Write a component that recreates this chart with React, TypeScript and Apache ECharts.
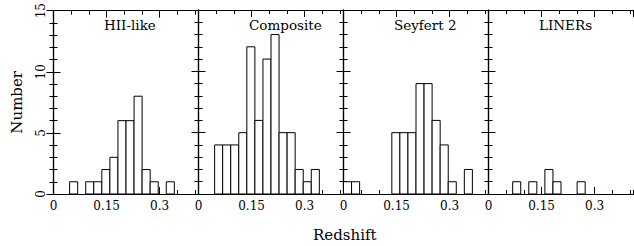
import React, { useEffect, useRef } from 'react';
import * as echarts from 'echarts';

// ---- data ----
const panelTitles = ['HII-like', 'Composite', 'Seyfert 2', 'LINERs'];
const binCount = 18;
const redshiftMax = 0.41;
const hiiCounts = [0, 0, 1, 0, 1, 1, 2, 3, 6, 6, 8, 2, 1, 0, 1, 0, 0, 0];
const compositeCounts = [0, 0, 4, 4, 4, 5, 12, 6, 11, 13, 5, 5, 2, 1, 2, 0, 0, 0];
const seyfertCounts = [1, 1, 0, 0, 0, 0, 5, 5, 5, 9, 9, 6, 4, 1, 0, 2, 0, 0];
const linerCounts = [0, 0, 0, 1, 0, 1, 0, 2, 1, 0, 0, 1, 0, 0, 0, 0, 0, 0];
const xTickLabels = ['0', '0.15', '0.3'];
const yTickLabels = ['0', '5', '10', '15'];
const xAxisTitle = 'Redshift';
const yAxisTitle = 'Number';

const allCounts = [hiiCounts, compositeCounts, seyfertCounts, linerCounts];

const SERIF = '"DejaVu Serif", "Liberation Serif", serif';

export default function App() {
  const ref = useRef<HTMLDivElement>(null);
  useEffect(() => {
    if (!ref.current) return;
    const chart = echarts.init(ref.current, null, { renderer: 'svg' });
    const binW = redshiftMax / binCount;
    const gridLeft0 = 53.5;
    const gridStep = 145;
    const grids: any[] = [];
    const xAxes: any[] = [];
    const yAxes: any[] = [];
    const series: any[] = [];
    const graphics: any[] = [];
    const lineCol = '#000';

    const fmtX = (v: number) => {
      const s = String(Math.round(v * 100) / 100);
      return xTickLabels.includes(s) && v < 0.4 ? s : '';
    };
    const fmtY = (v: number) => {
      const s = String(Math.round(v));
      return yTickLabels.includes(s) ? s : '';
    };

    for (let i = 0; i < 4; i++) {
      const left = gridLeft0 + gridStep * i;
      grids.push({ left, top: 10, width: gridStep, height: 184, containLabel: false });
      const baseX = {
        type: 'value', gridIndex: i, min: 0, max: redshiftMax,
        splitLine: { show: false },
        axisLine: { show: true, lineStyle: { color: lineCol, width: 1.2 } },
      };
      // bottom minor
      xAxes.push({ ...baseX, position: 'bottom', interval: 0.05,
        axisTick: { show: true, inside: true, length: 4, lineStyle: { color: lineCol, width: 1 } },
        axisLabel: { show: false } });
      // bottom major
      xAxes.push({ ...baseX, position: 'bottom', interval: 0.15,
        axisTick: { show: true, inside: true, length: 7, lineStyle: { color: lineCol, width: 1 } },
        axisLabel: { show: true, margin: 6, color: '#000', fontFamily: SERIF, fontSize: 12,
          formatter: fmtX, showMaxLabel: false } });
      // top minor
      xAxes.push({ ...baseX, position: 'top', interval: 0.05,
        axisTick: { show: true, inside: true, length: 4, lineStyle: { color: lineCol, width: 1 } },
        axisLabel: { show: false } });
      // top major
      xAxes.push({ ...baseX, position: 'top', interval: 0.15,
        axisTick: { show: true, inside: true, length: 7, lineStyle: { color: lineCol, width: 1 } },
        axisLabel: { show: false } });

      const baseY = {
        type: 'value', gridIndex: i, min: 0, max: 15, interval: 5,
        splitLine: { show: false },
        axisLine: { show: true, lineStyle: { color: lineCol, width: 1.2 } },
        axisTick: { show: true, inside: true, length: 7, lineStyle: { color: lineCol, width: 1 } },
        minorTick: { show: true, splitNumber: 5, length: 4, lineStyle: { color: lineCol, width: 1 } },
      };
      yAxes.push({ ...baseY, position: 'left',
        name: i === 0 ? yAxisTitle : '', nameLocation: 'middle', nameGap: 29,
        nameTextStyle: { color: '#000', fontFamily: SERIF, fontSize: 15 },
        axisLabel: { show: i === 0, rotate: 90, margin: 7, color: '#000', fontFamily: SERIF, fontSize: 12, formatter: fmtY } });
      yAxes.push({ ...baseY, position: 'right', axisLabel: { show: false } });

      const data = allCounts[i]
        .map((c, b) => [b * binW, (b + 1) * binW, c])
        .filter((d) => d[2] > 0);
      series.push({
        type: 'custom',
        xAxisIndex: 4 * i,
        yAxisIndex: 2 * i,
        data,
        renderItem: (params: any, api: any) => {
          const p0 = api.coord([api.value(0), api.value(2)]);
          const p1 = api.coord([api.value(1), 0]);
          return {
            type: 'rect',
            shape: { x: p0[0], y: p0[1], width: p1[0] - p0[0], height: p1[1] - p0[1] },
            style: { fill: '#fff', stroke: '#000', lineWidth: 1 },
          };
        },
        z: 1,
      });

      graphics.push({
        type: 'text', left: left + 50.5, top: 18,
        style: { text: panelTitles[i], fill: '#000', font: `13.5px ${SERIF}` },
      });
    }

    graphics.push({
      type: 'text', left: 313, top: 227,
      style: { text: xAxisTitle, fill: '#000', font: `15px ${SERIF}` },
    });

    chart.setOption({
      animation: false,
      backgroundColor: '#fff',
      grid: grids,
      xAxis: xAxes,
      yAxis: yAxes,
      series,
      graphic: graphics,
    });
    return () => chart.dispose();
  }, []);
  return (
    <div
      ref={ref}
      style={{ position: 'absolute', left: 0, top: 0, width: 634, height: 246, background: '#fff' }}
    />
  );
}
